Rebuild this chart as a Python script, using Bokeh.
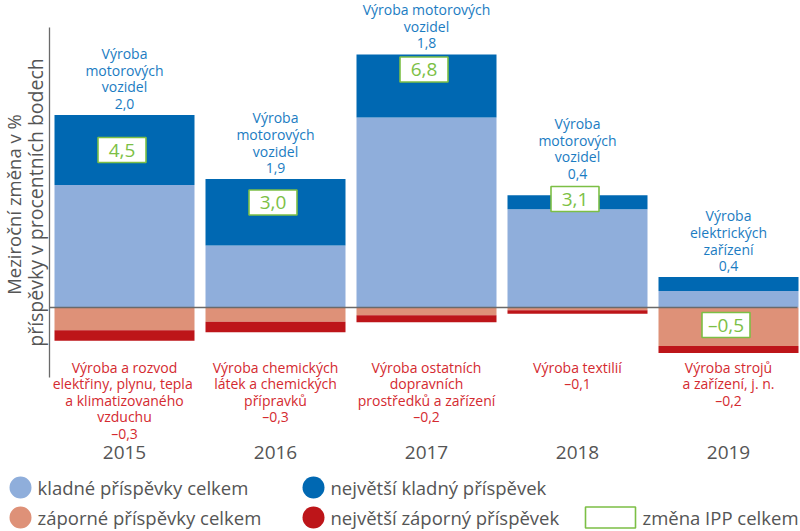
from bokeh.plotting import figure
from bokeh.models import Range1d
from bokeh.embed import file_html
from bokeh.resources import INLINE
from bokeh.core.properties import value

# ---------------- data ----------------
years = ["2015", "2016", "2017", "2018", "2019"]
pos_other = [3.50, 1.77, 5.43, 2.81, 0.47]     # kladné příspěvky celkem (bez největšího)
pos_max = [2.0, 1.9, 1.8, 0.4, 0.4]            # největší kladný příspěvek
neg_other = [-0.65, -0.41, -0.22, -0.08, -1.10]  # záporné příspěvky celkem (bez největšího)
neg_max = [-0.3, -0.3, -0.2, -0.1, -0.2]       # největší záporný příspěvek
ipp = [4.5, 3.0, 6.8, 3.1, -0.5]               # změna IPP celkem

pos_names = ["Výroba\nmotorových\nvozidel",
             "Výroba\nmotorových\nvozidel",
             "Výroba motorových\nvozidel",
             "Výroba\nmotorových\nvozidel",
             "Výroba\nelektrických\nzařízení"]
neg_names = ["Výroba a rozvod\nelektřiny,  plynu, tepla\na klimatizovaného\nvzduchu",
             "Výroba chemických\nlátek a chemických\npřípravků",
             "Výroba ostatních\ndopravních\nprostředků a zařízení",
             "Výroba textilií",
             "Výroba strojů\na zařízení, j. n."]

legend_labels = ["kladné příspěvky celkem", "největší kladný příspěvek",
                 "záporné příspěvky celkem", "největší záporný příspěvek",
                 "změna IPP celkem"]
y_title = ["Meziroční změna v %", "příspěvky v procentních bodech"]

# ---------------- style ----------------
C_LIGHT = "#8FAEDB"
C_DARK = "#0068B2"
C_SALMON = "#DE9178"
C_RED = "#BD1519"
C_GREEN = "#7CBF45"
C_BLUE_TXT = "#1B7CC2"
C_RED_TXT = "#D42A30"
C_GRAY = "#555555"
C_AXIS = "#6A6A6A"
FONT = value("Open Sans")
LH = 0.87

def fmt(v):
    s = f"{abs(v):.1f}".replace(".", ",")
    return ("–" + s) if v < 0 else s

# layout helpers: reference pixel -> data coordinate
X0, DX = 124.0, 151.0
Y0, DY = 307.0, 35.0
def px_x(X):
    return (X - X0) / DX
def px_y(Y):
    return (Y0 - Y) / DY

W, H = 800, 531
p = figure(width=W, height=H, output_backend="svg", toolbar_location=None,
           x_axis_type=None, y_axis_type=None,
           x_range=Range1d(px_x(0), px_x(W)),
           y_range=Range1d(px_y(H), px_y(0)),
           min_border=0, outline_line_color=None)
p.grid.visible = False
p.background_fill_color = "white"
p.border_fill_color = "white"

xs = list(range(len(years)))
bw = 140 / DX

pos_top = [a + b for a, b in zip(pos_other, pos_max)]
neg_bot = [a + b for a, b in zip(neg_other, neg_max)]

p.vbar(x=xs, bottom=0, top=pos_other, width=bw, fill_color=C_LIGHT, line_color=None)
p.vbar(x=xs, bottom=pos_other, top=pos_top, width=bw, fill_color=C_DARK, line_color=None)
p.vbar(x=xs, top=0, bottom=neg_other, width=bw, fill_color=C_SALMON, line_color=None)
p.vbar(x=xs, top=neg_other, bottom=neg_bot, width=bw, fill_color=C_RED, line_color=None)

# axis line and zero line
p.segment(x0=[px_x(49)], y0=[px_y(377)], x1=[px_x(49)], y1=[px_y(27)],
          line_color=C_AXIS, line_width=1.3)
p.segment(x0=[px_x(49)], y0=[0], x1=[px_x(797)], y1=[0],
          line_color=C_AXIS, line_width=1.3)

# IPP boxes
bx = [x - 2.5 / DX for x in xs]
p.rect(x=bx, y=ipp, width=48, height=25,
       width_units="screen", height_units="screen",
       fill_color="white", line_color=C_GREEN, line_width=1.6)
p.text(x=bx, y=ipp, text=[fmt(v) for v in ipp],
       text_font=FONT, text_font_size="19px", text_color=C_GREEN,
       text_align="center", text_baseline="middle")

# top labels (largest positive contribution), placed above bar or box
label_anchor = [max(t, v + 14 / DY) for t, v in zip(pos_top, ipp)]
p.text(x=xs, y=label_anchor, text=[n + "\n" + fmt(v) for n, v in zip(pos_names, pos_max)],
       text_font=FONT, text_font_size="14px", text_color=C_BLUE_TXT,
       text_align="center", text_baseline="bottom", y_offset=-2,
       text_line_height=LH)

# bottom labels (largest negative contribution)
p.text(x=xs, y=[px_y(357)] * len(xs),
       text=[n + "\n" + fmt(v) for n, v in zip(neg_names, neg_max)],
       text_font=FONT, text_font_size="14px", text_color=C_RED_TXT,
       text_align="center", text_baseline="top", text_line_height=LH)

# years
p.text(x=xs, y=[px_y(452)] * len(xs), text=years,
       text_font=FONT, text_font_size="19px", text_color=C_GRAY,
       text_align="center", text_baseline="middle")

# y title (rotated)
p.text(x=[px_x(13)], y=[px_y(204)], text=[y_title[0]],
       angle=1.5707963, text_font=FONT, text_font_size="18.5px", text_color=C_GRAY,
       text_align="center", text_baseline="middle")
p.text(x=[px_x(35)], y=[px_y(202)], text=[y_title[1]],
       angle=1.5707963, text_font=FONT, text_font_size="19.5px", text_color=C_GRAY,
       text_align="center", text_baseline="middle")

# legend
leg_colors = [C_LIGHT, C_DARK, C_SALMON, C_RED]
leg_mx = [px_x(20), px_x(313), px_x(20), px_x(313)]
leg_my = [px_y(487), px_y(487), px_y(517), px_y(517)]
p.scatter(x=leg_mx, y=leg_my, size=22, marker="circle",
          fill_color=leg_colors, line_color=None)
p.rect(x=[px_x(610)], y=[px_y(517)], width=50, height=21,
       width_units="screen", height_units="screen",
       fill_color="white", line_color=C_GREEN, line_width=1.6)
p.text(x=[px_x(37), px_x(330), px_x(37), px_x(330), px_x(642)],
       y=[px_y(487), px_y(487), px_y(517), px_y(517), px_y(517)],
       text=legend_labels, text_font=FONT, text_font_size="18.5px",
       text_color=C_GRAY, text_align="left", text_baseline="middle")

open("out.html", "w").write(file_html(p, INLINE))
